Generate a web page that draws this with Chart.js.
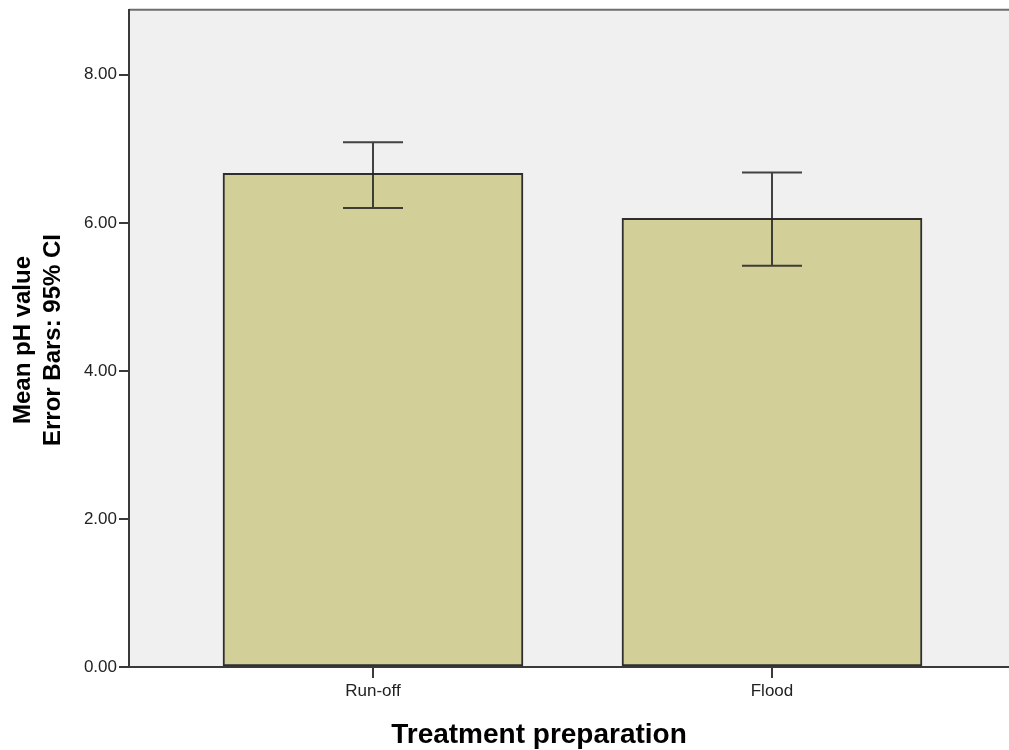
<!DOCTYPE html>
<html>
<head>
<meta charset="utf-8">
<script src="https://cdn.jsdelivr.net/npm/chart.js@4.4.1/dist/chart.umd.min.js"></script>
<style>
  html, body { margin: 0; padding: 0; background: #fff; overflow: hidden; }
  #wrap { position: relative; width: 1009px; height: 750px; }
</style>
</head>
<body>
<div id="wrap"><canvas id="c"></canvas></div>
<script>
// Mean pH per treatment preparation, with 95% confidence limits
const categories = ['Run-off', 'Flood'];
const meanPH = [6.67, 6.06];
const ciLow = [6.20, 5.42];
const ciHigh = [7.09, 6.68];
const yTicks = [0, 2, 4, 6, 8];

const FONT = '"Liberation Sans", Arial, sans-serif';
const AXIS_COLOR = '#3a3a3a';

// Light grey plotting panel with a grey top frame line
const panelPlugin = {
  id: 'panel',
  beforeDraw(chart) {
    const { ctx, chartArea: a } = chart;
    ctx.save();
    ctx.fillStyle = '#f0f0f0';
    ctx.fillRect(a.left, a.top, a.right - a.left, a.bottom - a.top);
    ctx.strokeStyle = '#6e6e6e';
    ctx.lineWidth = 2;
    ctx.beginPath();
    ctx.moveTo(a.left, a.top);
    ctx.lineTo(a.right, a.top);
    ctx.stroke();
    ctx.restore();
  }
};

// 95% CI whiskers drawn through the chart's scales
const errorBarPlugin = {
  id: 'errorBars',
  afterDatasetsDraw(chart) {
    const { ctx, scales: { x, y } } = chart;
    const cap = 30;
    ctx.save();
    ctx.strokeStyle = 'rgba(35,35,35,0.85)';
    ctx.lineWidth = 2;
    categories.forEach((c, i) => {
      const px = Math.round(x.getPixelForValue(i + 1));
      const hi = y.getPixelForValue(ciHigh[i]);
      const lo = y.getPixelForValue(ciLow[i]);
      ctx.beginPath();
      ctx.moveTo(px, hi); ctx.lineTo(px, lo);
      ctx.moveTo(px - cap, hi); ctx.lineTo(px + cap, hi);
      ctx.moveTo(px - cap, lo); ctx.lineTo(px + cap, lo);
      ctx.stroke();
    });
    ctx.restore();
  }
};

// Axis titles
const titlePlugin = {
  id: 'axisTitles',
  afterDraw(chart) {
    const { ctx } = chart;
    ctx.save();
    ctx.fillStyle = '#000';
    ctx.textAlign = 'center';
    ctx.textBaseline = 'alphabetic';
    ctx.font = 'bold 28px ' + FONT;
    ctx.fillText('Treatment preparation', 539, 743);
    ctx.translate(0, 340);
    ctx.rotate(-Math.PI / 2);
    ctx.font = 'bold 24px ' + FONT;
    ctx.fillText('Mean pH value', 0, 30);
    ctx.fillText('Error Bars: 95% CI', 0, 60);
    ctx.restore();
  }
};

new Chart(document.getElementById('c'), {
  type: 'bar',
  data: {
    datasets: [{
      data: categories.map((c, i) => ({ x: i + 1, y: meanPH[i] })),
      backgroundColor: '#d3cf98',
      borderColor: '#2e2e2e',
      borderWidth: 2,
      borderSkipped: false,
      barThickness: 300
    }]
  },
  options: {
    responsive: true,
    maintainAspectRatio: false,
    animation: false,
    devicePixelRatio: 1,
    layout: { padding: { top: 7, right: 0, bottom: 0, left: 0 } },
    plugins: { legend: { display: false }, tooltip: { enabled: false } },
    scales: {
      x: {
        type: 'linear',
        offset: false,
        min: 0.3885,
        max: 2.594,
        afterBuildTicks(s) { s.ticks = categories.map((c, i) => ({ value: i + 1 })); },
        afterFit(s) { s.height = 83; },
        ticks: {
          callback: (v) => categories[v - 1],
          color: '#222',
          font: { family: FONT, size: 17 },
          padding: 3,
          maxRotation: 0,
          autoSkip: false
        },
        grid: { offset: false, drawOnChartArea: false, drawTicks: true, tickLength: 11, color: AXIS_COLOR, lineWidth: 2 },
        border: { display: true, color: AXIS_COLOR, width: 2 }
      },
      y: {
        min: 0,
        max: 8.88,
        afterBuildTicks(s) { s.ticks = yTicks.map(v => ({ value: v })); },
        afterFit(s) { s.width = 129; },
        ticks: {
          callback: (v) => Number(v).toFixed(2),
          color: '#222',
          font: { family: FONT, size: 17, lineHeight: 0.9 },
          padding: 2
        },
        grid: { drawOnChartArea: false, drawTicks: true, tickLength: 10, color: AXIS_COLOR, lineWidth: 2 },
        border: { display: true, color: AXIS_COLOR, width: 2 }
      }
    }
  },
  plugins: [panelPlugin, errorBarPlugin, titlePlugin]
});
</script>
</body>
</html>
